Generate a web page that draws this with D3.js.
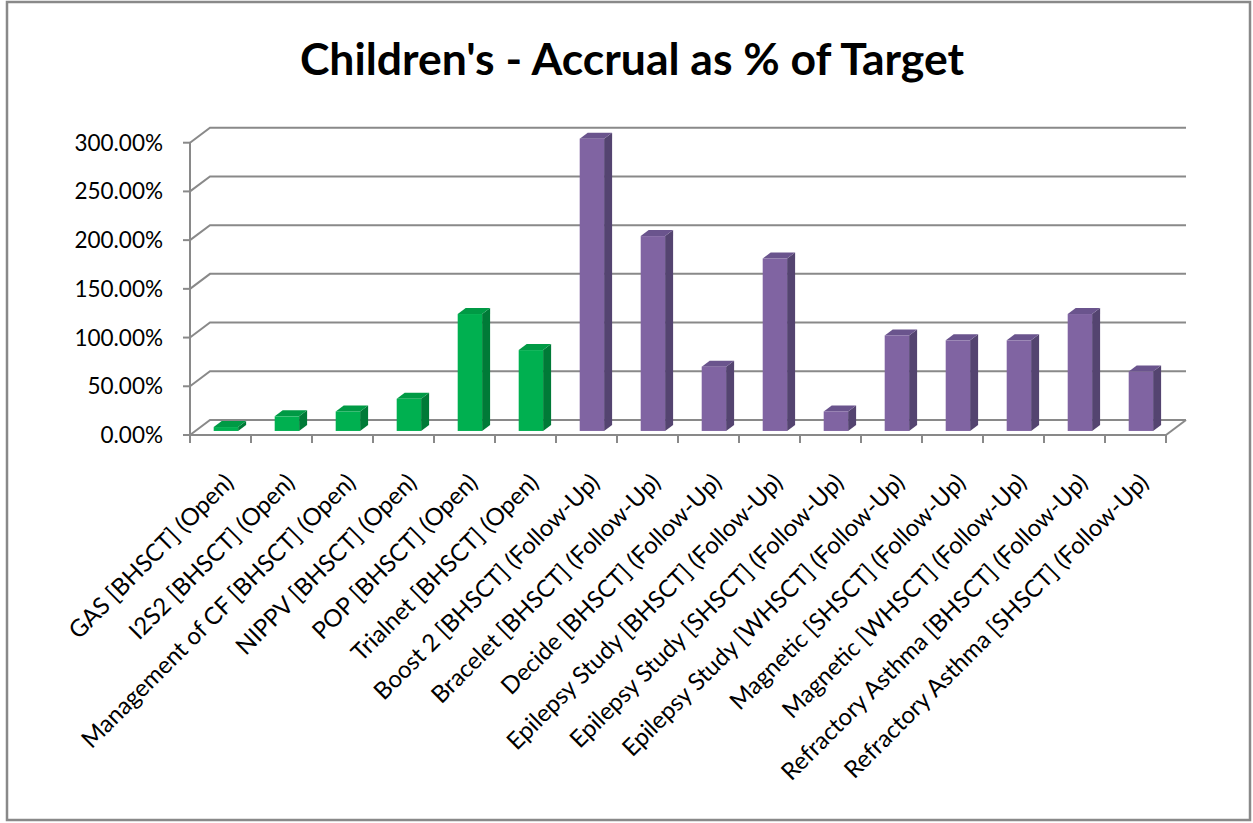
<!DOCTYPE html>
<html>
<head>
<meta charset="utf-8">
<script src="https://cdn.jsdelivr.net/npm/d3@7"></script>
<style>
  html, body { margin: 0; padding: 0; background: #fff; }
  svg { display: block; }
  text { font-family: Lato, "Open Sans", sans-serif; fill: #000; }
</style>
</head>
<body>
<svg id="chart" width="1253" height="823"></svg>
<script>
// Study names, as shown along the category axis
const categories = [
  "GAS [BHSCT] (Open)",
  "I2S2 [BHSCT] (Open)",
  "Management of CF [BHSCT] (Open)",
  "NIPPV [BHSCT] (Open)",
  "POP [BHSCT] (Open)",
  "Trialnet [BHSCT] (Open)",
  "Boost 2 [BHSCT] (Follow-Up)",
  "Bracelet [BHSCT] (Follow-Up)",
  "Decide [BHSCT] (Follow-Up)",
  "Epilepsy Study [BHSCT] (Follow-Up)",
  "Epilepsy Study [SHSCT] (Follow-Up)",
  "Epilepsy Study [WHSCT] (Follow-Up)",
  "Magnetic [SHSCT] (Follow-Up)",
  "Magnetic [WHSCT] (Follow-Up)",
  "Refractory Asthma [BHSCT] (Follow-Up)",
  "Refractory Asthma [SHSCT] (Follow-Up)"
];
// Accrual as a fraction of target
const accrual = [0.04, 0.15, 0.20, 0.33, 1.20, 0.83, 3.00, 2.00, 0.66, 1.77, 0.20, 0.98, 0.93, 0.93, 1.20, 0.61];
// Study phase for each category
const phase = ["Open", "Open", "Open", "Open", "Open", "Open",
  "Follow-Up", "Follow-Up", "Follow-Up", "Follow-Up", "Follow-Up",
  "Follow-Up", "Follow-Up", "Follow-Up", "Follow-Up", "Follow-Up"];
// Value axis ticks
const yTicks = [0, 0.5, 1.0, 1.5, 2.0, 2.5, 3.0];
const chartTitle = "Children's - Accrual as % of Target";

const svg = d3.select("#chart");

// Face colours per phase: front, top, side
const palette = {
  "Open":      { front: "#00B050", top: "#009A45", side: "#007A37" },
  "Follow-Up": { front: "#8064A2", top: "#6A548D", side: "#544470" }
};

// Plot box: front plane and depth offset of the pseudo-3D box
const left = 190, right = 1166, floorY = 435, topY = 142.7;
const depthX = 20, depthY = -15;
const t0 = 0.27, t1 = 0.67; // bar front/back depth as fraction of the box

const x = d3.scaleBand().domain(categories).range([left, right])
  .paddingInner(0.6).paddingOuter(0.3);
const y = d3.scaleLinear().domain([0, 3]).range([floorY, topY]);

const grey = "#898989";

// Outer chart frame
svg.append("rect").attr("x", 7).attr("y", 2).attr("width", 1243).attr("height", 818)
  .attr("fill", "#fff").attr("stroke", grey).attr("stroke-width", 2.5);

// Title
svg.append("text").attr("x", 632).attr("y", 75).attr("text-anchor", "middle")
  .attr("font-size", 44.5).attr("font-weight", "bold").text(chartTitle);

// Gridlines on the back wall and their continuation across the side wall
const grid = svg.append("g").attr("stroke", grey).attr("stroke-width", 2).attr("fill", "none");
yTicks.forEach(v => {
  const yy = y(v);
  grid.append("path").attr("d",
    `M${left},${yy}L${left + depthX},${yy + depthY}L${right + depthX},${yy + depthY}`);
});

// Floor: right edge
grid.append("line").attr("x1", right).attr("y1", floorY)
  .attr("x2", right + depthX).attr("y2", floorY + depthY);

// Value axis line and ticks with labels
const yAxis = svg.append("g");
yAxis.append("line").attr("x1", left).attr("x2", left).attr("y1", floorY).attr("y2", topY)
  .attr("stroke", grey).attr("stroke-width", 2);
yTicks.forEach(v => {
  yAxis.append("line").attr("x1", left - 7).attr("x2", left).attr("y1", y(v)).attr("y2", y(v))
    .attr("stroke", grey).attr("stroke-width", 2);
  yAxis.append("text").attr("x", 163).attr("y", y(v) + 8).attr("text-anchor", "end")
    .attr("font-size", 22.5).text(d3.format(".2%")(v));
});

// Category axis line and boundary ticks
const xAxis = svg.append("g");
xAxis.append("line").attr("x1", left).attr("x2", right).attr("y1", floorY).attr("y2", floorY)
  .attr("stroke", grey).attr("stroke-width", 2);
const step = x.step();
d3.range(categories.length + 1).forEach(i => {
  const xx = left + i * step;
  xAxis.append("line").attr("x1", xx).attr("x2", xx).attr("y1", floorY).attr("y2", floorY + 8)
    .attr("stroke", grey).attr("stroke-width", 2);
});

// Category labels rotated 45 degrees
categories.forEach((c, i) => {
  const cx = x(c) + x.bandwidth() / 2;
  const ax = cx + 14.5, ay = 484;
  xAxis.append("text")
    .attr("transform", `translate(${ax},${ay}) rotate(-45)`)
    .attr("text-anchor", "end").attr("font-size", 24).text(c);
});

// Bars: front, top and right-side faces
const bw = x.bandwidth();
const bdx = depthX * (t1 - t0), bdy = depthY * (t1 - t0);
const bars = svg.append("g");
categories.forEach((c, i) => {
  const col = palette[phase[i]];
  const x0 = x(c) + depthX * t0;
  const yv = y(accrual[i]) + depthY * t0;
  const yb = y(0) + depthY * t0;
  const g = bars.append("g");
  g.append("path").attr("fill", col.side).attr("d",
    `M${x0 + bw},${yv}L${x0 + bw + bdx},${yv + bdy}L${x0 + bw + bdx},${yb + bdy}L${x0 + bw},${yb}Z`);
  g.append("path").attr("fill", col.top).attr("d",
    `M${x0},${yv}L${x0 + bw},${yv}L${x0 + bw + bdx},${yv + bdy}L${x0 + bdx},${yv + bdy}Z`);
  g.append("rect").attr("x", x0).attr("y", yv).attr("width", bw).attr("height", yb - yv)
    .attr("fill", col.front);
});
</script>
</body>
</html>
